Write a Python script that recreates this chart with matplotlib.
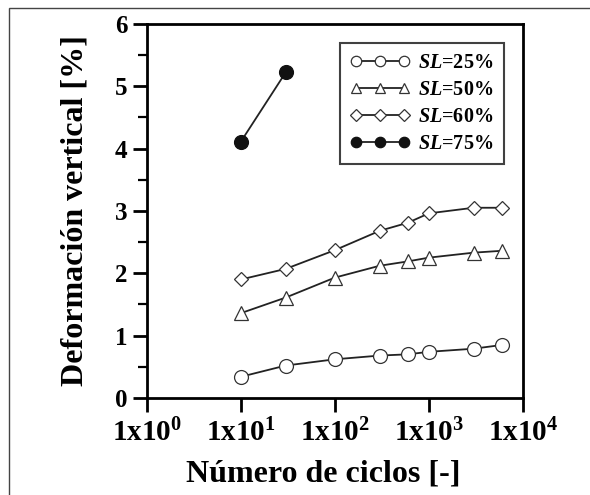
import numpy as np
import matplotlib.pyplot as plt
from matplotlib.patches import Rectangle

# Data
ciclos = [10, 30, 100, 300, 600, 1000, 3000, 6000]
sl25 = [0.34, 0.52, 0.62, 0.68, 0.70, 0.74, 0.79, 0.85]
sl50 = [1.36, 1.61, 1.93, 2.12, 2.19, 2.25, 2.33, 2.36]
sl60 = [1.90, 2.07, 2.37, 2.68, 2.81, 2.96, 3.05, 3.05]
ciclos75 = [10, 30]
sl75 = [4.11, 5.22]

x_ticks = [1, 10, 100, 1000, 10000]
x_ticklabels = [r'1x10$^{%d}$' % i for i in range(5)]

plt.rcParams['font.family'] = 'Liberation Serif'
plt.rcParams['font.weight'] = 'bold'
plt.rcParams['mathtext.fontset'] = 'custom'
plt.rcParams['mathtext.rm'] = 'Liberation Serif:bold'
plt.rcParams['mathtext.it'] = 'Liberation Serif:bold:italic'
plt.rcParams['mathtext.bf'] = 'Liberation Serif:bold'

fig = plt.figure(figsize=(5.9, 4.95), dpi=100)
ax = fig.add_axes([0.249, 0.196, 0.637, 0.756])

# outer frame around the figure
fig.patches.append(Rectangle((9 / 590, -0.02), 1.0, 1.02 - 8 / 495, transform=fig.transFigure,
                             fill=False, edgecolor='#444444', lw=1.0))

style = dict(color='#222222', lw=1.3, markersize=10, markeredgewidth=0.9)
ax.plot(ciclos, sl25, marker='o', mfc='white', mec='#333333', label=r'$SL$=25%', **style)
ax.plot(ciclos, sl50, marker='^', mfc='white', mec='#333333', label=r'$SL$=50%', **style)
ax.plot(ciclos, sl60, marker='D', mfc='white', mec='#333333', label=r'$SL$=60%',
        **{**style, 'markersize': 7.5})
ax.plot(ciclos75, sl75, marker='o', mfc='#111111', mec='#111111', label=r'$SL$=75%', **style)

ax.set_xscale('log')
ax.set_xlim(1, 10000)
ax.set_ylim(0, 6)
ax.set_xticks(x_ticks)
ax.set_xticklabels(x_ticklabels)
ax.set_yticks(range(7))
ax.set_yticks(np.arange(0.5, 6, 1.0), minor=True)

for s in ax.spines.values():
    s.set_linewidth(2.0)
ax.tick_params(which='major', direction='out', length=10, width=2.0)
ax.tick_params(axis='x', which='major', pad=5, labelsize=21)
ax.tick_params(axis='y', which='major', pad=4, labelsize=18)
ax.tick_params(which='minor', direction='out', length=6.5, width=1.6)

ax.set_xlabel('Número de ciclos [-]', fontsize=23, fontweight='bold', labelpad=9)
ax.xaxis.label.set_x(0.47)
ax.set_ylabel('Deformación vertical [%]', fontsize=23, fontweight='bold', labelpad=18)

leg = ax.legend(loc='upper right', numpoints=3, fontsize=14.5, frameon=True, fancybox=False,
                borderaxespad=0.95, handlelength=3.0, handletextpad=0.4, labelspacing=0.35,
                markerscale=0.75, borderpad=0.5)
leg.get_frame().set_edgecolor('#111111')
leg.get_frame().set_linewidth(1.5)

plt.savefig('out.png', dpi=100)
